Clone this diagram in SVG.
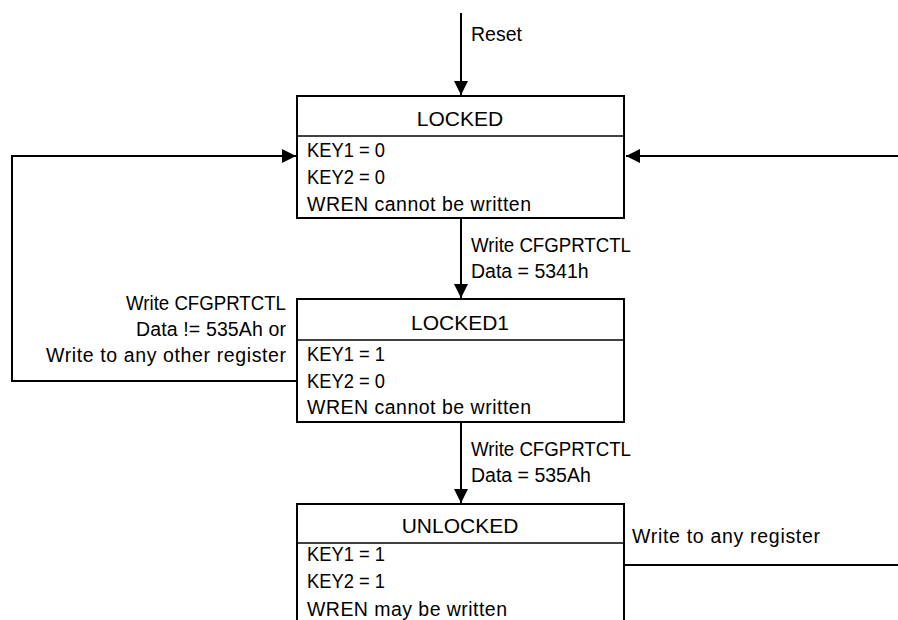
<svg xmlns="http://www.w3.org/2000/svg" width="898" height="620" viewBox="0 0 898 620">
<style>
text{font-family:"Liberation Sans",Arial,sans-serif;fill:#000;font-size:19.5px}
.h{font-size:21px;text-anchor:middle}
.r{text-anchor:end}
.box{fill:#fff;stroke:#000;stroke-width:2}
.div{stroke:#000;stroke-width:1.5}
.c{fill:none;stroke:#000;stroke-width:2}
</style>
<defs>
<marker id="ah" viewBox="0 0 14 14" refX="14" refY="7" markerWidth="14" markerHeight="14" markerUnits="userSpaceOnUse" orient="auto">
<path d="M0,0 L14,7 L0,14 Z" fill="#000"/>
</marker>
</defs>
<g id="connectors">
<path class="c" d="M461,13 V95" marker-end="url(#ah)"/>
<path class="c" d="M461,218 V298" marker-end="url(#ah)"/>
<path class="c" d="M461,422 V503" marker-end="url(#ah)"/>
<path class="c" d="M297,381 H12 V156 H296" marker-end="url(#ah)"/>
<path class="c" d="M624,565 H898"/>
<path class="c" d="M898,156 H626" marker-end="url(#ah)"/>
</g>
<g id="labels">
<text x="471" y="41">Reset</text>
<text x="471" y="252" textLength="160" lengthAdjust="spacingAndGlyphs">Write CFGPRTCTL</text>
<text x="471" y="278">Data = 5341h</text>
<text x="471" y="456" textLength="160" lengthAdjust="spacingAndGlyphs">Write CFGPRTCTL</text>
<text x="471" y="482">Data = 535Ah</text>
<text class="r" x="286" y="310" textLength="160" lengthAdjust="spacingAndGlyphs">Write CFGPRTCTL</text>
<text class="r" x="286" y="336" textLength="150" lengthAdjust="spacing">Data != 535Ah or</text>
<text class="r" x="286" y="362" textLength="240" lengthAdjust="spacing">Write to any other register</text>
<text x="632" y="543" textLength="188" lengthAdjust="spacing">Write to any register</text>
</g>
<g id="locked">
<rect class="box" x="297" y="96" width="327" height="122"/>
<line class="div" x1="297" y1="136" x2="624" y2="136"/>
<text class="h" x="460" y="126">LOCKED</text>
<text x="307" y="157" textLength="78" lengthAdjust="spacingAndGlyphs">KEY1 = 0</text>
<text x="307" y="184" textLength="78" lengthAdjust="spacingAndGlyphs">KEY2 = 0</text>
<text x="307" y="211" textLength="224" lengthAdjust="spacing">WREN cannot be written</text>
</g>
<g id="locked1">
<rect class="box" x="297" y="299" width="327" height="123"/>
<line class="div" x1="297" y1="340" x2="624" y2="340"/>
<text class="h" x="460" y="330">LOCKED1</text>
<text x="307" y="361" textLength="78" lengthAdjust="spacingAndGlyphs">KEY1 = 1</text>
<text x="307" y="388" textLength="78" lengthAdjust="spacingAndGlyphs">KEY2 = 0</text>
<text x="307" y="414" textLength="224" lengthAdjust="spacing">WREN cannot be written</text>
</g>
<g id="unlocked">
<rect class="box" x="297" y="504" width="327" height="130"/>
<line class="div" x1="297" y1="543" x2="624" y2="543"/>
<text class="h" x="460" y="533">UNLOCKED</text>
<text x="307" y="561" textLength="78" lengthAdjust="spacingAndGlyphs">KEY1 = 1</text>
<text x="307" y="588" textLength="78" lengthAdjust="spacingAndGlyphs">KEY2 = 1</text>
<text x="307" y="616" textLength="200" lengthAdjust="spacing">WREN may be written</text>
</g>
</svg>
